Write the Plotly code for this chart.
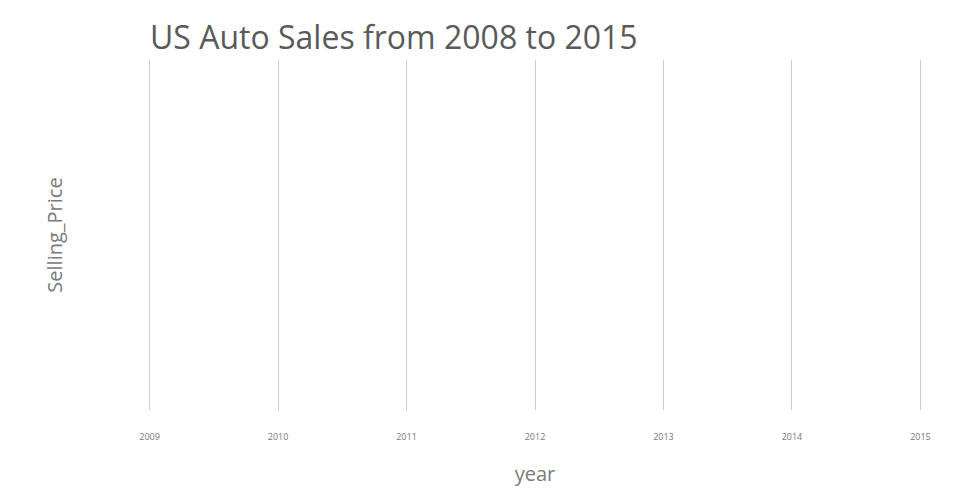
import plotly.graph_objects as go

years = [2009, 2010, 2011, 2012, 2013, 2014, 2015]
selling_price = [None, None, None, None, None, None, None]

fig = go.Figure()
fig.add_trace(go.Scatter(x=years, y=selling_price, mode="lines", showlegend=False))

fig.update_layout(
    width=960, height=500,
    paper_bgcolor="white", plot_bgcolor="white",
    font=dict(family="Open Sans", color="#666"),
    margin=dict(l=139, r=45, t=52, b=98),
    title=dict(text="US Auto Sales from 2008 to 2015", x=142/960, xanchor="left",
               xref="container", y=0.94, yanchor="middle", yref="container",
               font=dict(size=32, color="#5a5a5a")),
    xaxis=dict(range=[2008.98, 2015.02], tickvals=years, showgrid=True,
               gridcolor="#cccccc", gridwidth=1, zeroline=False, showline=False,
               tickfont=dict(size=9, color="#777"), ticklabelstandoff=20,
               title=dict(text="year", font=dict(size=20, color="#7a7a7a"), standoff=24)),
    yaxis=dict(showgrid=False, zeroline=False, showline=False, showticklabels=False,
               automargin=True,
               title=dict(text="Selling_Price", font=dict(size=20, color="#7a7a7a"), standoff=78)),
)

fig.write_html("out.html")
